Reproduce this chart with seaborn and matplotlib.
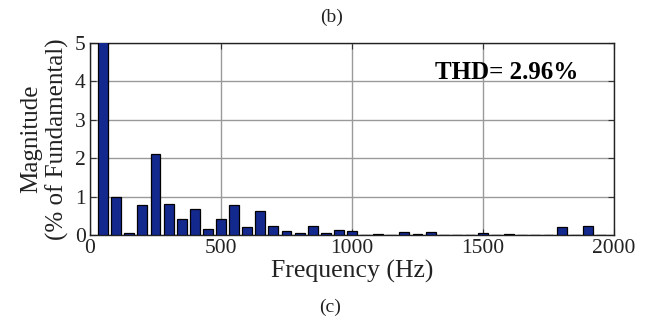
import numpy as np
import pandas as pd
import matplotlib
matplotlib.use("Agg")
import matplotlib.pyplot as plt
import seaborn as sns

# Harmonic frequencies (Hz) and magnitudes (% of fundamental)
freq = [50, 100, 150, 200, 250, 300, 350, 400, 450, 500,
        550, 600, 650, 700, 750, 800, 850, 900, 950, 1000,
        1050, 1100, 1150, 1200, 1250, 1300, 1350, 1400, 1450, 1500,
        1550, 1600, 1650, 1700, 1750, 1800, 1850, 1900, 1950]
magnitude = [100.0, 1.00, 0.04, 0.79, 2.10, 0.81, 0.42, 0.68, 0.15, 0.42,
             0.78, 0.22, 0.62, 0.23, 0.10, 0.06, 0.23, 0.05, 0.14, 0.10,
             0.005, 0.02, 0.005, 0.07, 0.03, 0.07, 0.01, 0.01, 0.01, 0.04,
             0.01, 0.03, 0.005, 0.005, 0.01, 0.20, 0.01, 0.24, 0.005]
xticks = [0, 500, 1000, 1500, 2000]
yticks = [0, 1, 2, 3, 4, 5]
thd_text = "THD= 2.96%"

sns.set_theme(style="white")
plt.rcParams['font.family'] = ['Liberation Serif', 'DejaVu Serif']

df = pd.DataFrame({"freq": freq, "mag": magnitude})

fig = plt.figure(figsize=(6.49, 3.2), dpi=100)
ax = fig.add_axes([90/649, 1-235/320, (614-90)/649, (235-43)/320])

sns.barplot(data=df, x="freq", y="mag", native_scale=True, width=0.75,
            color="#14298e", saturation=1, edgecolor="black", linewidth=0.9,
            ax=ax, zorder=3)

ax.set_xlim(0, 2000)
ax.set_ylim(0, 5)
ax.set_xticks(xticks)
ax.set_yticks(yticks)
ax.set_xticklabels([str(t) for t in xticks], fontsize=15.5)
ax.set_yticklabels([str(t) for t in yticks], fontsize=15.5)
ax.tick_params(direction="in", length=4, width=0.8, top=True, right=True,
               bottom=True, left=True, colors="#333333",
               labelcolor="#222222")
ax.tick_params(axis="x", pad=3)
ax.tick_params(axis="y", pad=3)
ax.grid(True, color="#9a9a9a", linewidth=1.0, zorder=0)
ax.set_axisbelow(True)
for s in ax.spines.values():
    s.set_color("#222222")
    s.set_linewidth(1.0)

ax.set_xlabel("Frequency (Hz)", fontsize=18.5, color="#222222", labelpad=1)
ax.set_ylabel("Magnitude\n(% of Fundamental)", fontsize=18, color="#222222",
              labelpad=4, linespacing=1.2)

ax.text(0.658, 0.845, thd_text, transform=ax.transAxes, fontsize=18,
        fontweight="bold", color="black", ha="left", va="center", zorder=5)

fig.text(332/649, 1-17/320, "(b)", fontsize=14, ha="center", va="center",
         color="#222222")
fig.text(330/649, 1-307/320, "(c)", fontsize=14, ha="center", va="center",
         color="#222222")

fig.savefig("out.png", dpi=100)
